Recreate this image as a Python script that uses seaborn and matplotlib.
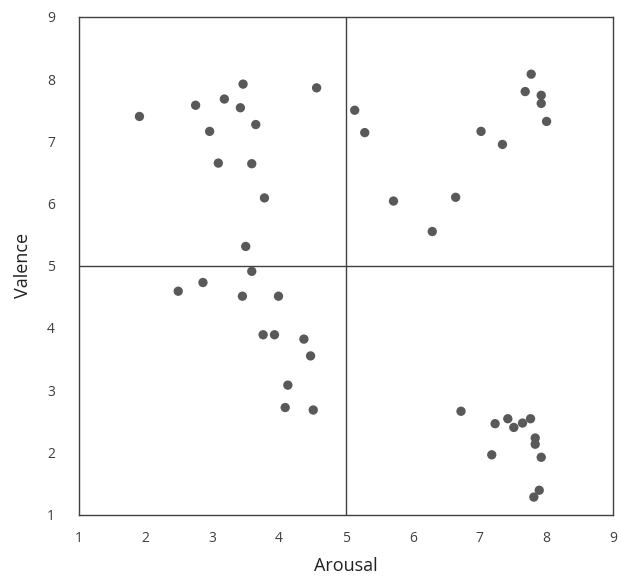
import matplotlib
matplotlib.use("Agg")
import matplotlib.pyplot as plt
import seaborn as sns
import pandas as pd

arousal = [1.91, 2.75, 3.18, 3.46, 3.42, 4.56, 3.65, 2.96, 3.09, 3.59, 3.78, 3.50,
           5.13, 5.28, 5.71, 6.29, 6.64, 7.02, 7.34, 7.68, 7.77, 7.92, 7.92, 8.00,
           3.59, 2.86, 2.49, 3.45, 3.99, 3.76, 3.93, 4.37, 4.47, 4.13, 4.09, 4.51,
           6.72, 7.23, 7.42, 7.51, 7.64, 7.76, 7.83, 7.83, 7.18, 7.92, 7.89, 7.81]
valence = [7.40, 7.58, 7.68, 7.92, 7.54, 7.86, 7.27, 7.16, 6.65, 6.64, 6.09, 5.31,
           7.50, 7.14, 6.04, 5.55, 6.10, 7.16, 6.95, 7.80, 8.08, 7.74, 7.61, 7.32,
           4.91, 4.73, 4.59, 4.51, 4.51, 3.89, 3.89, 3.82, 3.55, 3.08, 2.72, 2.68,
           2.66, 2.46, 2.54, 2.40, 2.47, 2.54, 2.23, 2.13, 1.96, 1.92, 1.39, 1.28]
ticks = [1, 2, 3, 4, 5, 6, 7, 8, 9]
midpoint = 5

df = pd.DataFrame({"Arousal": arousal, "Valence": valence})

sns.set_style("white")
plt.rcParams['font.family'] = ['Open Sans', 'DejaVu Sans']

fig = plt.figure(figsize=(6.19, 5.84), dpi=100)
ax = fig.add_axes([0.127, 0.119, 0.864, 0.852])

sns.scatterplot(data=df, x="Arousal", y="Valence", ax=ax, color="#595959",
                s=45, edgecolor="none", linewidth=0, zorder=3)

ax.axvline(midpoint, color="#404040", linewidth=1.0, zorder=2)
ax.axhline(midpoint, color="#404040", linewidth=1.0, zorder=2)

ax.set_xlim(1, 9)
ax.set_ylim(1, 9)
ax.set_xticks(ticks)
ax.set_yticks(ticks)
ax.set_xticklabels([str(t) for t in ticks], fontsize=10, color="#404040")
ax.set_yticklabels([str(t) for t in ticks], fontsize=10, color="#404040")
ax.tick_params(axis="x", length=0, pad=12)
ax.tick_params(axis="y", length=0, pad=17)

for sp in ax.spines.values():
    sp.set_color("#404040")
    sp.set_linewidth(1.0)
    sp.set_visible(True)

ax.set_xlabel("Arousal", fontsize=13, color="#202020", labelpad=8)
ax.set_ylabel("Valence", fontsize=13, color="#202020", labelpad=11)

fig.savefig("out.png", dpi=100)
